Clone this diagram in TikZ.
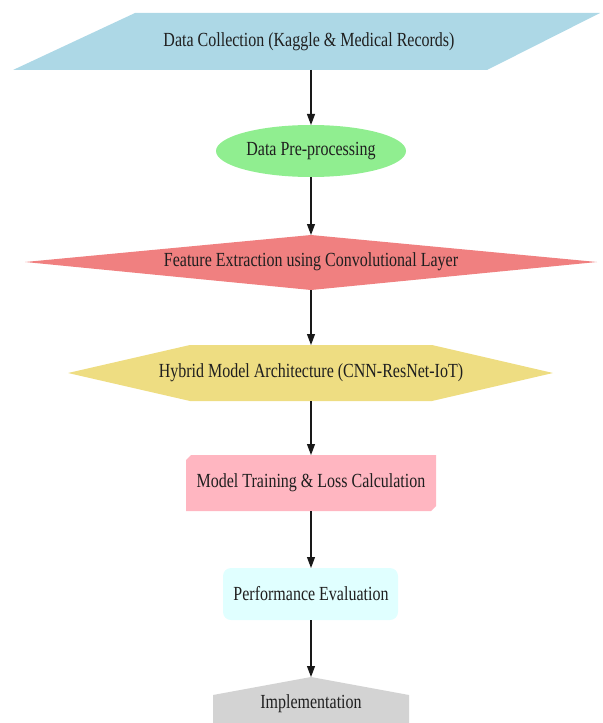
\documentclass[tikz,border=0pt]{standalone}
\usepackage{fontspec}
\setmainfont[FakeStretch=0.8]{Liberation Serif}
\usetikzlibrary{arrows.meta}
\definecolor{cblue}{HTML}{ADD8E6}
\definecolor{cgreen}{HTML}{90EE90}
\definecolor{ccoral}{HTML}{F08080}
\definecolor{cgold}{HTML}{EEDD82}
\definecolor{cpink}{HTML}{FFB6C1}
\definecolor{ccyan}{HTML}{E0FFFF}
\definecolor{cgrey}{HTML}{D3D3D3}
\tikzset{
  lbl/.style={inner sep=0pt, text=black!88, font=\fontsize{20bp}{24bp}\selectfont},
  conn/.style={draw=black!90, line width=1.1bp, -{Triangle[length=11bp,width=8bp]}}
}
\begin{document}
\begin{tikzpicture}[x=1bp,y=-1bp]
\useasboundingbox (0,0) rectangle (603,723);
% shapes
\fill[cblue] (135,13) -- (600,13) -- (487,70) -- (13,70) -- cycle;
\fill[cgreen] (311,151) ellipse [x radius=95, y radius=26];
\fill[ccoral] (311,235) -- (597,262) -- (311,290) -- (25,262) -- cycle;
\fill[cgold] (190,345) -- (432,345) -- (553,373) -- (432,401) -- (190,401) -- (68,373) -- cycle;
\fill[cpink] (191,455) -- (436,455) -- (436,506) -- (431,511) -- (186,511) -- (186,460) -- cycle;
\fill[ccyan, rounded corners=8bp] (223,568) rectangle (398,620);
\fill[cgrey] (311,677) -- (409,695) -- (409,723) -- (213,723) -- (213,695) -- cycle;
% labels
\node[lbl] (dc) at (309,42) {Data Collection (Kaggle \& Medical Records)};
\node[lbl] (dp) at (311,151) {Data Pre-processing};
\node[lbl] (fe) at (311,262) {Feature Extraction using Convolutional Layer};
\node[lbl] (hm) at (311,373) {Hybrid Model Architecture (CNN-ResNet-IoT)};
\node[lbl] (mt) at (311,483) {Model Training \& Loss Calculation};
\node[lbl] (pe) at (311,594) {Performance Evaluation};
\node[lbl] (im) at (311,704) {Implementation};
% anchor points
\coordinate (dcb) at (311,70);
\coordinate (dpt) at (311,125);
\coordinate (dpb) at (311,177);
\coordinate (fet) at (311,235);
\coordinate (feb) at (311,290);
\coordinate (hmt) at (311,345);
\coordinate (hmb) at (311,401);
\coordinate (mtt) at (311,455);
\coordinate (mtb) at (311,511);
\coordinate (pet) at (311,568);
\coordinate (peb) at (311,620);
\coordinate (imt) at (311,677);
% connectors
\draw[conn] (dcb) -- (dpt);
\draw[conn] (dpb) -- (fet);
\draw[conn] (feb) -- (hmt);
\draw[conn] (hmb) -- (mtt);
\draw[conn] (mtb) -- (pet);
\draw[conn] (peb) -- (imt);
\end{tikzpicture}
\end{document}
